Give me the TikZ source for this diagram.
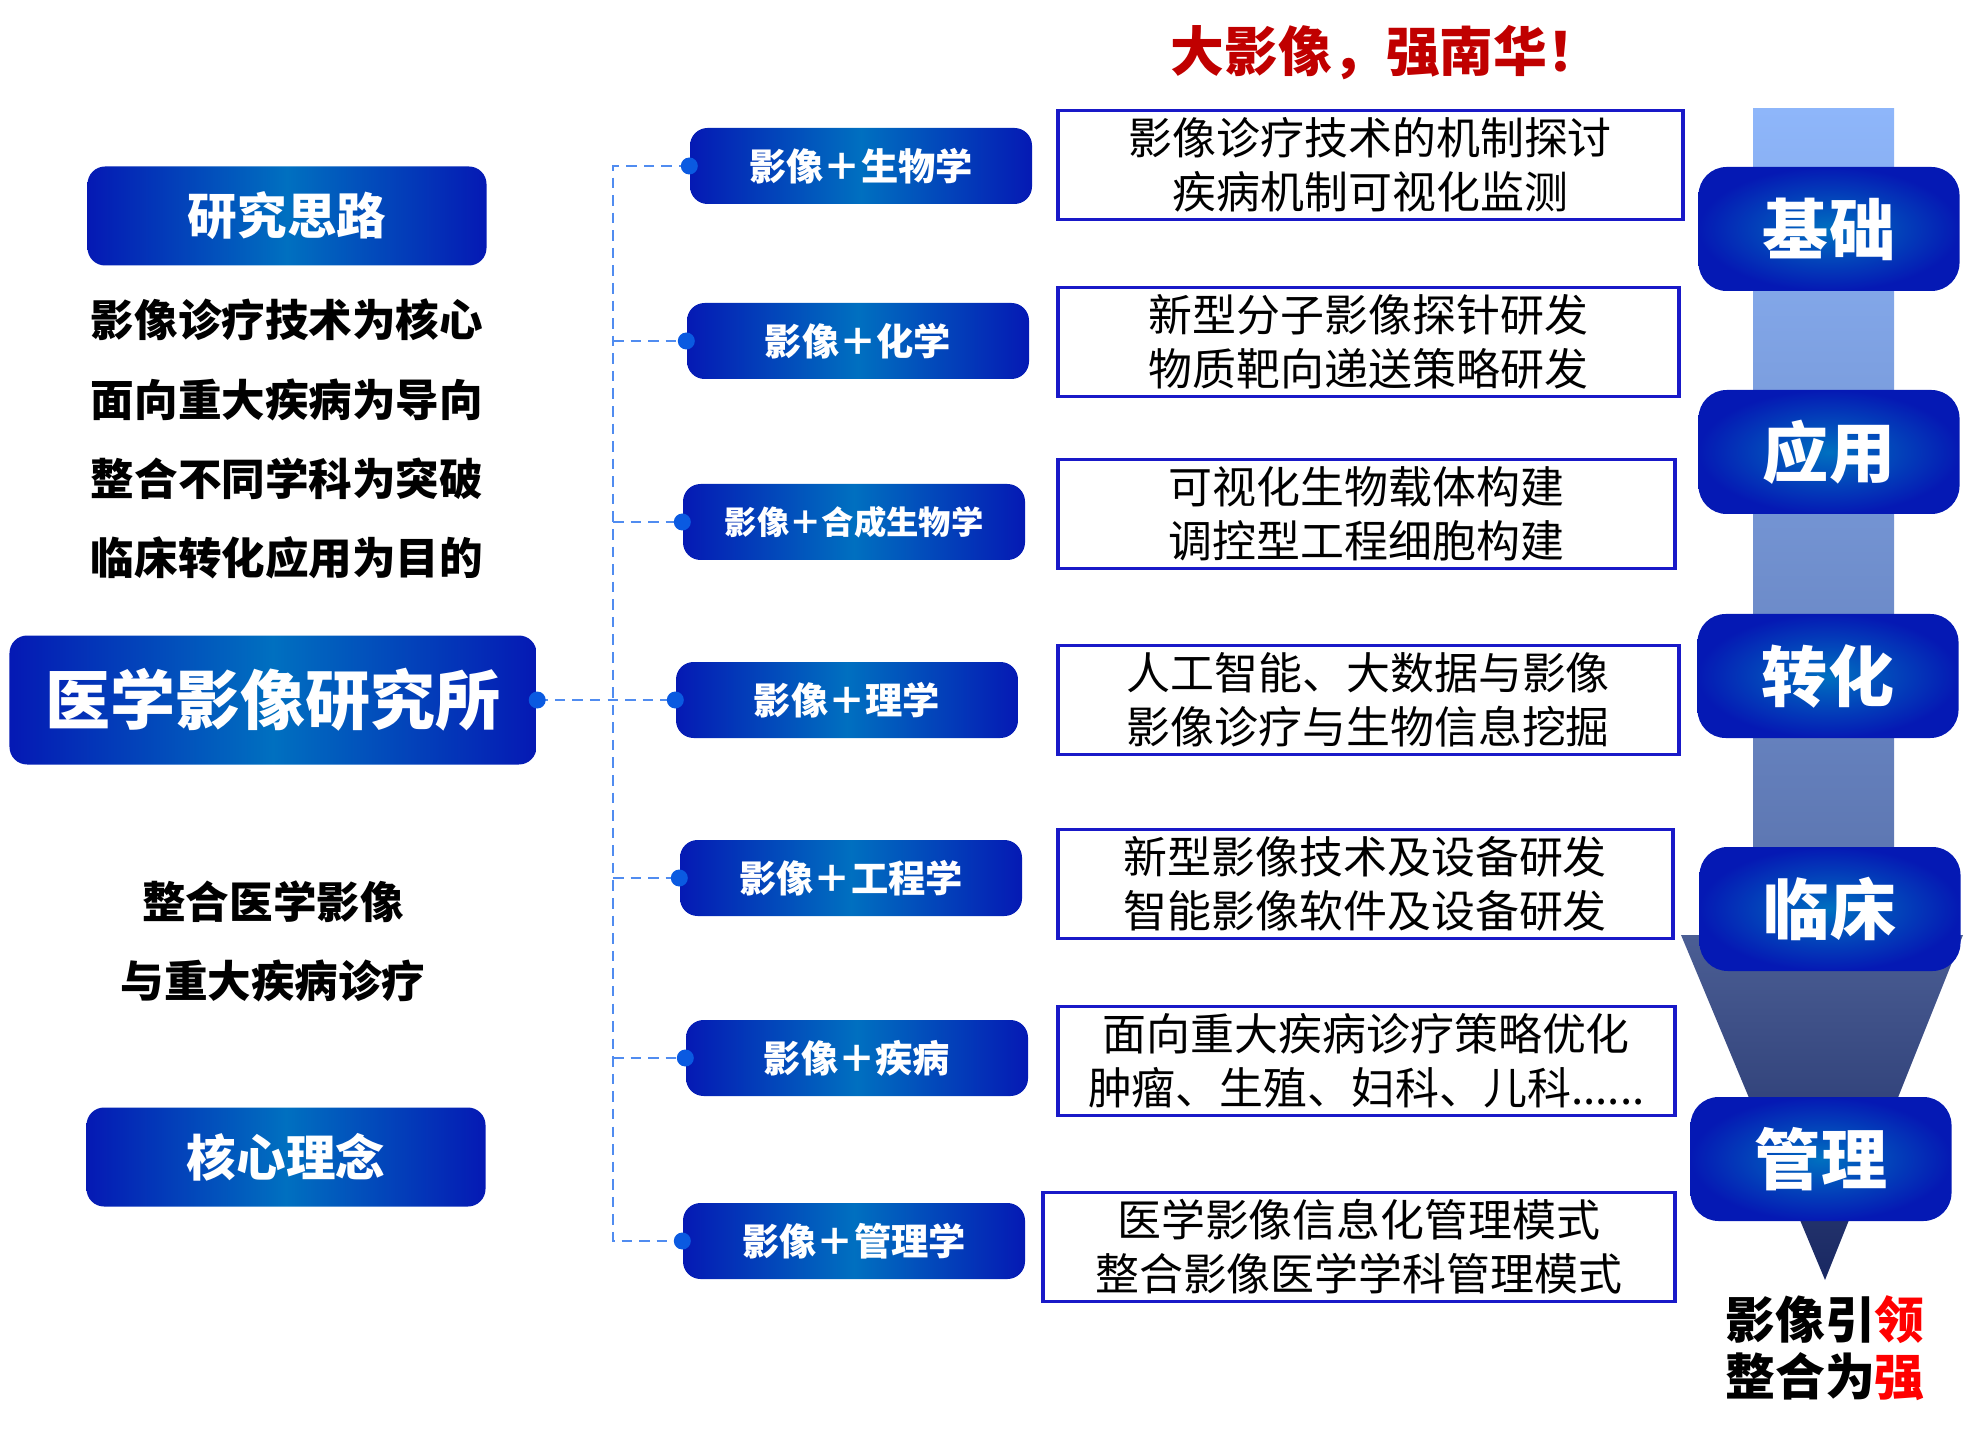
\documentclass[tikz,border=0pt]{standalone}
\usepackage{fontspec}
\setmainfont{Noto Sans CJK SC}
\definecolor{boxdark}{RGB}{5,25,180}
\definecolor{boxmid}{RGB}{0,112,192}
\definecolor{descblue}{RGB}{25,25,200}
\definecolor{treeblue}{RGB}{80,140,240}
\definecolor{dotblue}{RGB}{10,90,225}
\definecolor{titlered}{RGB}{192,0,0}
\definecolor{accentred}{RGB}{255,0,0}
\definecolor{barlight}{RGB}{142,182,250}
\definecolor{bardark}{RGB}{88,112,170}
\definecolor{funtop}{RGB}{75,94,148}
\definecolor{funbot}{RGB}{25,40,98}

\begin{document}
\begin{tikzpicture}[
  head/.style={rounded corners=5pt, text=white, font=\bfseries\fontsize{14.1}{16}\selectfont,
    left color=boxdark, right color=boxdark, middle color=boxmid,
    minimum width=3.99cm, minimum height=0.99cm},
  field/.style={head, font=\bfseries\fontsize{10.6}{13}\selectfont,
    minimum width=3.42cm, minimum height=0.76cm},
  desc/.style={draw=descblue, line width=1pt, align=center, anchor=west,
    font=\fontsize{12.5}{15.4}\selectfont, minimum height=1.09cm, inner sep=0pt},
  stage/.style={rounded corners=8pt, text=white, font=\bfseries\fontsize{18.8}{20}\selectfont,
    inner color=boxmid, outer color=boxdark, minimum width=2.61cm, minimum height=1.24cm},
  slogan/.style={font=\bfseries\fontsize{12.4}{22.5}\selectfont, align=center},
  tree/.style={draw=treeblue, dash pattern=on 3pt off 2pt, line width=0.6pt},
]
\useasboundingbox (0,0) rectangle (19.67,14.40);

% Title
\node[font=\bfseries\fontsize{15.3}{16}\selectfont, text=titlered]
  (title) at (13.86,13.87) {大影像，强南华！};

% Left column
\node[head] (idea) at (2.87,12.24) {研究思路};
\node[slogan] (aims) at (2.87,10.01)
  {影像诊疗技术为核心\\面向重大疾病为导向\\整合不同学科为突破\\临床转化应用为目的};
\node[head, font=\bfseries\fontsize{18.5}{20}\selectfont, minimum width=5.27cm,
  minimum height=1.29cm] (inst) at (2.73,7.40) {医学影像研究所};
\node[slogan] (core) at (2.73,4.99) {整合医学影像\\与重大疾病诊疗};
\node[head] (concept) at (2.86,2.83) {核心理念};

% Disciplines
\node[field] (bio) at (8.61,12.74) {影像＋生物学};
\node[field] (chem) at (8.58,10.99) {影像＋化学};
\node[field, font=\bfseries\fontsize{9.2}{12}\selectfont] (synbio) at (8.54,9.18) {影像＋合成生物学};
\node[field] (phys) at (8.47,7.40) {影像＋理学};
\node[field] (eng) at (8.51,5.62) {影像＋工程学};
\node[field] (dis) at (8.57,3.82) {影像＋疾病};
\node[field] (mgmt) at (8.54,1.99) {影像＋管理学};

% Descriptions
\node[desc, minimum width=6.25cm] (dbio) at (10.56,12.75)
  {影像诊疗技术的机制探讨\\疾病机制可视化监测};
\node[desc, minimum width=6.21cm] (dchem) at (10.56,10.98)
  {新型分子影像探针研发\\物质靶向递送策略研发};
\node[desc, minimum width=6.17cm] (dsynbio) at (10.56,9.26)
  {可视化生物载体构建\\调控型工程细胞构建};
\node[desc, minimum width=6.21cm] (dphys) at (10.56,7.40)
  {人工智能、大数据与影像\\影像诊疗与生物信息挖掘};
\node[desc, minimum width=6.15cm] (deng) at (10.56,5.56)
  {新型影像技术及设备研发\\智能影像软件及设备研发};
\node[desc, minimum width=6.17cm] (ddis) at (10.56,3.79)
  {面向重大疾病诊疗策略优化\\肿瘤、生殖、妇科、儿科......};
\node[desc, minimum width=6.32cm] (dmgmt) at (10.41,1.93)
  {医学影像信息化管理模式\\整合影像医学学科管理模式};

% Tree connectors
\coordinate (trunk) at (6.13,0);
\draw[tree] (bio.west) -- (bio.west -| trunk) -- (mgmt.west -| trunk) -- (mgmt.west);
\foreach \f in {chem,synbio,eng,dis}
  \draw[tree] (\f.west -| trunk) -- (\f.west);
\draw[tree] (inst.east) -- (phys.west);
\foreach \f in {bio,chem,synbio,phys,eng,dis,mgmt}
  \fill[dotblue] (\f.west) circle (0.085);
\fill[dotblue] (inst.east) circle (0.085);

% Right column: bar and funnel
\shade[top color=barlight, bottom color=bardark] (17.53,5.05) rectangle (18.94,13.31);
\shade[top color=funtop, bottom color=funbot] (16.81,5.05) -- (19.63,5.05) -- (18.25,1.60) -- cycle;

\node[stage] (basic) at (18.29,12.11) {基础};
\node[stage] (apply) at (18.29,9.88) {应用};
\node[stage] (trans) at (18.28,7.64) {转化};
\node[stage] (clinic) at (18.30,5.31) {临床};
\node[stage] (manage) at (18.21,2.81) {管理};

\node[font=\bfseries\fontsize{14.2}{16.2}\selectfont, align=center]
  (motto) at (18.25,0.92) {影像引\textcolor{accentred}{领}\\整合为\textcolor{accentred}{强}};
\end{tikzpicture}
\end{document}
